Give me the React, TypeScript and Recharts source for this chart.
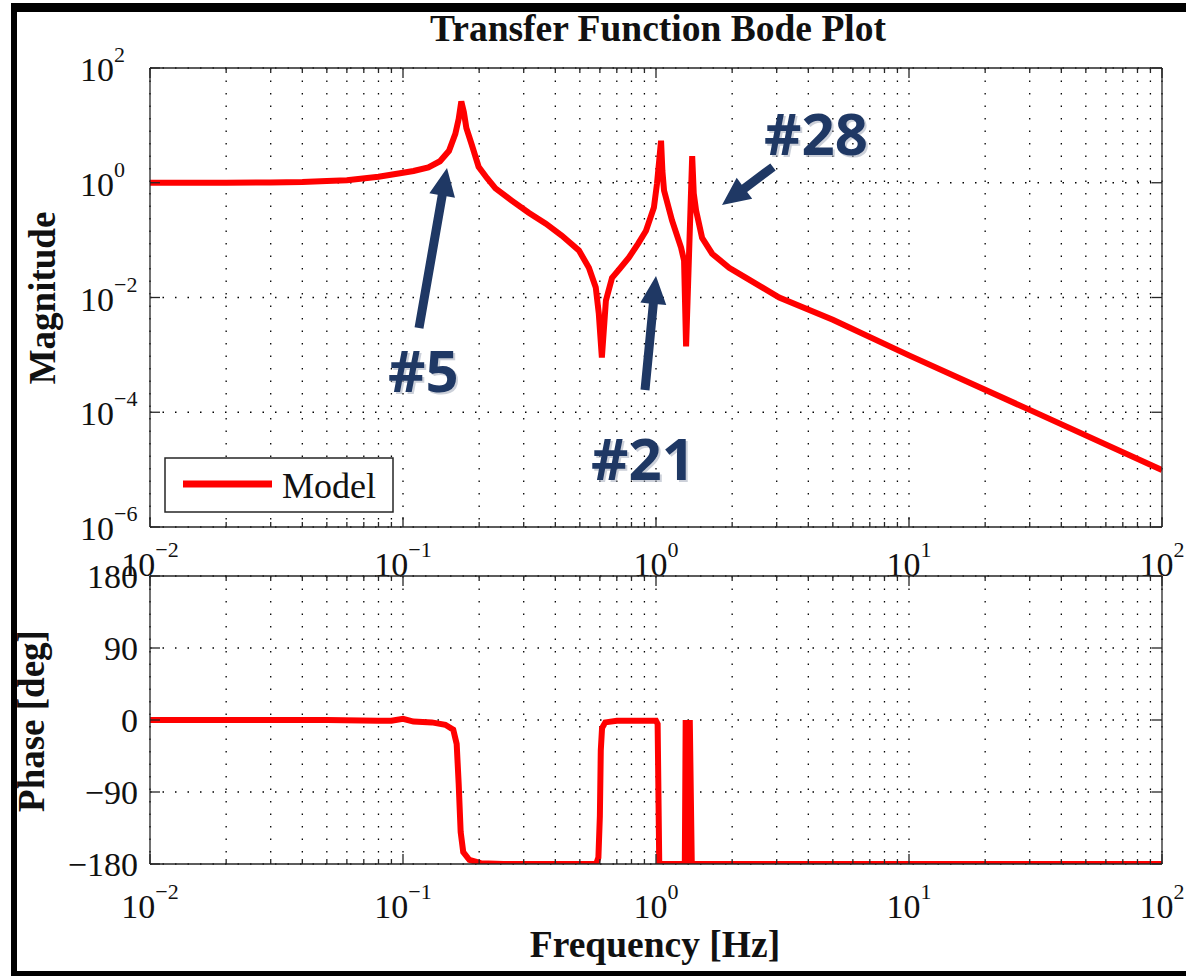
import React from "react";
import { LineChart, Line, XAxis, YAxis, CartesianGrid, Legend } from "recharts";

// magnitude response (Hz, |H|)
const magFreq = [
  0.01, 0.02, 0.03, 0.04, 0.05, 0.06, 0.08, 0.096, 0.11, 0.126, 0.14, 0.152,
  0.161, 0.166, 0.17, 0.174, 0.178, 0.187, 0.199, 0.215, 0.232, 0.269, 0.314,
  0.367, 0.424, 0.496, 0.543, 0.578, 0.594, 0.611, 0.634, 0.67, 0.72, 0.782,
  0.85, 0.913, 0.981, 1.009, 1.03, 1.047, 1.06, 1.076, 1.157, 1.256, 1.291,
  1.315, 1.39, 1.41, 1.44, 1.521, 1.667, 1.946, 2.271, 3.07, 5, 10, 30, 100,
];
const magValue = [
  1.0, 1.0, 1.01, 1.03, 1.07, 1.11, 1.27, 1.45, 1.6, 1.85, 2.37, 3.6,
  7.1, 13, 26, 17, 9, 4.6, 1.9, 1.2, 0.8, 0.49, 0.3,
  0.194, 0.12, 0.066, 0.033, 0.015, 0.0053, 0.0009, 0.0089, 0.022, 0.032, 0.05,
  0.087, 0.146, 0.37, 0.96, 2.5, 5.4, 1.6, 0.73, 0.22, 0.074, 0.044,
  0.0014, 2.9, 0.65, 0.33, 0.11, 0.058, 0.033, 0.022, 0.01, 0.0041, 0.00098, 0.00011, 0.0000098,
];

// phase response (Hz, deg)
const phaseFreq = [
  0.01, 0.05, 0.08, 0.09, 0.1, 0.11, 0.13, 0.147, 0.158, 0.163, 0.166, 0.169,
  0.173, 0.183, 0.203, 0.25, 0.58, 0.592, 0.6, 0.605, 0.612, 0.63, 0.7, 1.0,
  1.015, 1.03, 1.3, 1.31, 1.33, 1.36, 1.385, 100,
];
const phaseValue = [
  0, 0, -1, -1, 1.5, -2, -3, -6, -12, -30, -80, -140,
  -165, -175, -179, -180, -180, -172, -120, -38, -10, -3, -1, -1,
  -5, -180, -180, 0, -180, 0, -180, -180,
];

const decadeStarts = [0.01, 0.1, 1, 10];
const mantissas = [1, 2, 3, 4, 5, 6, 7, 8, 9];
const freqTicks = [
  ...decadeStarts.flatMap((d) => mantissas.map((m) => +(d * m).toPrecision(3))),
  100,
];
const magTicks = [1e-6, 1e-4, 1e-2, 1, 100];
const phaseTicks = [-180, -90, 0, 90, 180];

const magData = magFreq.map((f, i) => ({ f, mag: magValue[i] }));
const phaseData = phaseFreq.map((f, i) => ({ f, phase: phaseValue[i] }));

const SERIF = "'Liberation Serif', 'Times New Roman', serif";
const AXIS = "#262626";
const RED = "#ff0000";
const NAVY = "#1f3864";

const expOf = (v: number) => Math.round(Math.log10(v));
const isDecade = (v: number) => Math.abs(Math.log10(v) - expOf(v)) < 1e-6;
const minus = (n: number) => (n < 0 ? "\u2212" + Math.abs(n) : String(n));

function PowerLabel({ x, y, value, anchor }: any) {
  return (
    <text x={x} y={y} textAnchor={anchor} fontFamily={SERIF} fontSize={34} fill="#111">
      <tspan>10</tspan>
      <tspan dy={-19} fontSize={22}>
        {minus(expOf(value))}
      </tspan>
    </text>
  );
}

const bottomTick = (labelDy: number) => (props: any) => {
  const { x, y, payload } = props;
  const major = isDecade(payload.value);
  return (
    <g>
      <line x1={x} x2={x} y1={y} y2={y - (major ? 10 : 5)} stroke={AXIS} strokeWidth={1.3} />
      {major && <PowerLabel x={x} y={y + labelDy} value={payload.value} anchor="middle" />}
    </g>
  );
};

const topTick = (props: any) => {
  const { x, y, payload } = props;
  const major = isDecade(payload.value);
  return <line x1={x} x2={x} y1={y} y2={y + (major ? 10 : 5)} stroke={AXIS} strokeWidth={1.3} />;
};

const magLeftTick = (props: any) => {
  const { x, y, payload } = props;
  return (
    <g>
      <line x1={x} x2={x + 10} y1={y} y2={y} stroke={AXIS} strokeWidth={1.3} />
      <PowerLabel x={x - 70} y={y + 13} value={payload.value} anchor="start" />
    </g>
  );
};

const phaseLeftTick = (props: any) => {
  const { x, y, payload } = props;
  return (
    <g>
      <line x1={x} x2={x + 10} y1={y} y2={y} stroke={AXIS} strokeWidth={1.3} />
      <text x={x - 12} y={y + 12} textAnchor="end" fontFamily={SERIF} fontSize={34} fill="#111">
        {minus(payload.value)}
      </text>
    </g>
  );
};

const rightTick = (props: any) => {
  const { x, y } = props;
  return <line x1={x} x2={x - 10} y1={y} y2={y} stroke={AXIS} strokeWidth={1.3} />;
};

const ModelLegend = (props: any) => {
  const name = props.payload && props.payload[0] ? props.payload[0].value : "Model";
  return (
    <svg width={230} height={56}>
      <rect x={1} y={1} width={228} height={54} fill="#fff" stroke={AXIS} strokeWidth={1.5} />
      <line x1={19} x2={108} y1={27} y2={27} stroke={RED} strokeWidth={7} />
      <text x={118} y={41} fontFamily={SERIF} fontSize={36} fill="#111">
        {name}
      </text>
    </svg>
  );
};

const arrows = [
  { tail: [419, 328], tip: [447, 168] },
  { tail: [645, 390], tip: [656, 276] },
  { tail: [773, 167], tip: [722, 205] },
];
const callouts = [
  { text: "#5", x: 388, y: 392 },
  { text: "#21", x: 591, y: 480 },
  { text: "#28", x: 764, y: 155 },
];

function arrowPoints(tail: number[], tip: number[]) {
  const dx = tip[0] - tail[0];
  const dy = tip[1] - tail[1];
  const len = Math.hypot(dx, dy);
  const ux = dx / len;
  const uy = dy / len;
  const nx = -uy;
  const ny = ux;
  const head = 28;
  const hw = 13;
  const sw = 4.5;
  const bx = tip[0] - ux * head;
  const by = tip[1] - uy * head;
  const pts = [
    [tail[0] + nx * sw, tail[1] + ny * sw],
    [bx + nx * sw, by + ny * sw],
    [bx + nx * hw, by + ny * hw],
    [tip[0], tip[1]],
    [bx - nx * hw, by - ny * hw],
    [bx - nx * sw, by - ny * sw],
    [tail[0] - nx * sw, tail[1] - ny * sw],
  ];
  return pts.map((p) => p.join(",")).join(" ");
}

const layer: React.CSSProperties = { position: "absolute", left: 0, top: 0 };

const axisLine = { stroke: AXIS, strokeWidth: 1.3 };

// shared settings for the 1px-thick frame axes (ticks drawn inward by the tick renderers)
const frameAxis = {
  interval: 0 as const,
  tickSize: 0,
  tickMargin: 0,
  tickLine: false,
  axisLine,
  allowDataOverflow: true,
};

export default function App() {
  return (
    <div style={{ ...layer, width: 1186, height: 976, background: "#fff", overflow: "hidden" }}>
      <div style={layer}>
        <LineChart width={1186} height={976} data={magData} margin={{ top: 67, right: 23, bottom: 448, left: 149 }}>
          <CartesianGrid stroke="#000" strokeWidth={1.3} strokeDasharray="1.5 11" />
          <XAxis
            {...frameAxis}
            dataKey="f"
            type="number"
            scale="log"
            domain={[0.01, 100]}
            ticks={freqTicks}
            height={1}
            tick={bottomTick(49)}
          />
          <XAxis
            {...frameAxis}
            xAxisId="top"
            orientation="top"
            dataKey="f"
            type="number"
            scale="log"
            domain={[0.01, 100]}
            ticks={freqTicks}
            height={1}
            tick={topTick}
          />
          <YAxis
            {...frameAxis}
            type="number"
            scale="log"
            domain={[1e-6, 100]}
            ticks={magTicks}
            width={1}
            tick={magLeftTick}
          />
          <YAxis
            {...frameAxis}
            yAxisId="right"
            orientation="right"
            type="number"
            scale="log"
            domain={[1e-6, 100]}
            ticks={magTicks}
            width={1}
            tick={rightTick}
          />
          <Legend
            layout="vertical"
            verticalAlign="middle"
            align="center"
            content={ModelLegend}
            wrapperStyle={{ left: 164, top: 457, width: 230, height: 56 }}
          />
          <Line
            type="linear"
            dataKey="mag"
            name="Model"
            stroke={RED}
            strokeWidth={6}
            dot={false}
            activeDot={false}
            isAnimationActive={false}
          />
        </LineChart>
      </div>

      <div style={layer}>
        <LineChart width={1186} height={976} data={phaseData} margin={{ top: 575, right: 23, bottom: 111, left: 149 }}>
          <CartesianGrid stroke="#000" strokeWidth={1.3} strokeDasharray="1.5 11" />
          <XAxis
            {...frameAxis}
            dataKey="f"
            type="number"
            scale="log"
            domain={[0.01, 100]}
            ticks={freqTicks}
            height={1}
            tick={bottomTick(54)}
          />
          <XAxis
            {...frameAxis}
            xAxisId="top"
            orientation="top"
            dataKey="f"
            type="number"
            scale="log"
            domain={[0.01, 100]}
            ticks={freqTicks}
            height={1}
            tick={topTick}
          />
          <YAxis
            {...frameAxis}
            type="number"
            domain={[-180, 180]}
            ticks={phaseTicks}
            width={1}
            tick={phaseLeftTick}
          />
          <YAxis
            {...frameAxis}
            yAxisId="right"
            orientation="right"
            type="number"
            domain={[-180, 180]}
            ticks={phaseTicks}
            width={1}
            tick={rightTick}
          />
          <Line
            type="linear"
            dataKey="phase"
            name="Model"
            stroke={RED}
            strokeWidth={6}
            dot={false}
            activeDot={false}
            isAnimationActive={false}
          />
        </LineChart>
      </div>

      <svg width={1186} height={976} style={{ ...layer, pointerEvents: "none" }}>
        {/* frame */}
        <rect x={11} y={3} width={1180} height={9} fill="#000" />
        <rect x={11} y={3} width={6} height={980} fill="#000" />
        <rect x={11} y={971} width={1180} height={8} fill="#000" />

        <text x={658} y={41} textAnchor="middle" fontFamily={SERIF} fontWeight="bold" fontSize={37.5} fill="#111">
          Transfer Function Bode Plot
        </text>
        <text x={655} y={957} textAnchor="middle" fontFamily={SERIF} fontWeight="bold" fontSize={37.5} fill="#111">
          Frequency [Hz]
        </text>
        <text
          x={55}
          y={298}
          textAnchor="middle"
          fontFamily={SERIF}
          fontWeight="bold"
          fontSize={37}
          fill="#111"
          transform="rotate(-90 55 298)"
        >
          Magnitude
        </text>
        <text
          x={44}
          y={721}
          textAnchor="middle"
          fontFamily={SERIF}
          fontWeight="bold"
          fontSize={37}
          fill="#111"
          transform="rotate(-90 44 721)"
        >
          Phase [deg]
        </text>

        {arrows.map((a, i) => (
          <polygon key={i} points={arrowPoints(a.tail, a.tip)} fill={NAVY} />
        ))}
        {callouts.map((c) => (
          <g key={c.text}>
            <text x={c.x + 2} y={c.y + 2} fontFamily="'Open Sans', 'Liberation Sans', sans-serif" fontWeight={700} fontSize={58} fill="#9aa3b5" opacity={0.5}>
              {c.text}
            </text>
            <text x={c.x} y={c.y} fontFamily="'Open Sans', 'Liberation Sans', sans-serif" fontWeight={700} fontSize={58} fill={NAVY}>
              {c.text}
            </text>
          </g>
        ))}
      </svg>
    </div>
  );
}
